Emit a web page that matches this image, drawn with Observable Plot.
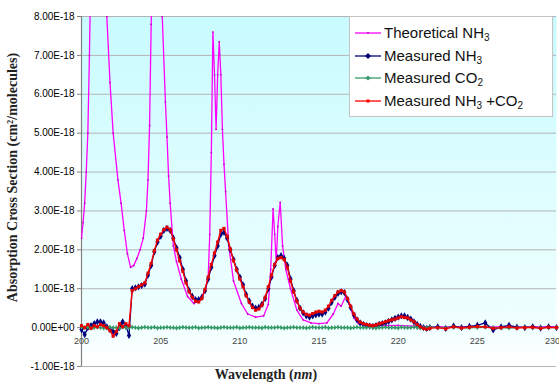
<!DOCTYPE html>
<html><head><meta charset="utf-8">
<script src="https://cdn.jsdelivr.net/npm/d3@7"></script>
<script src="https://cdn.jsdelivr.net/npm/@observablehq/plot@0.6"></script>
<style>
body{margin:0;background:#fff;}
#wrap{position:relative;width:559px;height:385px;overflow:hidden;}
#legend{position:absolute;left:349px;top:16px;width:204px;height:101px;background:#fff;border:1px solid #c4c4c4;box-sizing:border-box;font-family:Arial,"Liberation Sans",sans-serif;font-size:15px;color:#111;}
.row{position:absolute;left:0;height:20px;line-height:20px;white-space:nowrap;}
.row svg{position:absolute;left:3px;top:4px;}
.row span{position:absolute;left:34px;top:0;}
sub{font-size:10px;vertical-align:-3px;line-height:0;}
</style>
</head><body>
<div id="wrap"><div id="chart"></div>
<div id="legend">
 <div class="row" style="top:6px"><svg width="30" height="12"><line x1="2" x2="28" y1="6" y2="6" stroke="#ff00ff" stroke-width="1.3"/><circle cx="15" cy="6" r="1" fill="#cc00cc"/></svg><span>Theoretical NH<sub>3</sub></span></div>
 <div class="row" style="top:29px"><svg width="30" height="12"><line x1="2" x2="28" y1="6" y2="6" stroke="#000080" stroke-width="1.3"/><path d="M15,3L18,6L15,9L12,6Z" fill="#000080"/></svg><span>Measured NH<sub>3</sub></span></div>
 <div class="row" style="top:51px"><svg width="30" height="12"><line x1="2" x2="28" y1="6" y2="6" stroke="#339966" stroke-width="1.3"/><path d="M15,3.5L17.5,6L15,8.5L12.5,6Z" fill="#339966"/></svg><span>Measured CO<sub>2</sub></span></div>
 <div class="row" style="top:74px"><svg width="30" height="12"><line x1="2" x2="28" y1="6" y2="6" stroke="#ff0000" stroke-width="1.3"/><rect x="13.5" y="4.5" width="3" height="3" fill="#ff0000"/></svg><span>Measured NH<sub>3</sub> +CO<sub>2</sub></span></div>
</div>
</div>
<script>
// values in units of 1E-18 cm^2/molecule
const yTicks = [-1, 0, 1, 2, 3, 4, 5, 6, 7, 8];
const xTicks = [200, 205, 210, 215, 220, 225];
const xTickLast = [230];

// Theoretical NH3
const theoWl = [200.0,200.1,200.2,200.3,200.4,200.5,200.6,201.0,201.4,201.6,201.8,202.0,202.3,202.5,202.7,202.9,203.1,203.3,203.5,203.7,203.9,204.1,204.2,204.3,204.4,204.6,204.8,205.0,205.1,205.3,205.4,205.5,205.6,205.8,206.0,206.3,206.7,207.1,207.5,207.8,208.0,208.1,208.2,208.3,208.4,208.5,208.6,208.7,208.8,208.9,209.0,209.1,209.3,209.6,210.1,210.5,211.0,211.5,211.8,211.95,212.1,212.2,212.3,212.4,212.55,212.7,212.9,213.2,213.6,214.0,214.5,215.0,215.5,215.9,216.2,216.4,216.7,216.9,217.2,217.5,218.0,219.0,220.0,221.0,222.0,224.0,226.0,228.0,230.0];
const theoVal = [2.3,2.7,3.2,4.0,5.0,7.0,9.5,14,10,8.0,6.3,5.0,3.8,3.2,2.5,1.9,1.55,1.6,1.78,2.0,2.3,3.0,3.8,5.2,7.8,11,13,10,8.0,5.8,4.9,3.9,3.2,2.1,1.7,1.25,0.8,0.62,0.72,0.95,1.3,2.4,4.5,7.6,6.5,5.1,6.5,7.35,6.5,5.1,4.2,3.5,2.1,1.2,0.62,0.35,0.27,0.3,0.6,1.5,3.05,2.4,1.7,2.6,3.22,2.1,1.5,1.0,0.45,0.2,0.12,0.1,0.12,0.35,0.62,0.55,0.82,0.6,0.25,0.1,0.05,0.05,0.06,0.04,0.02,0.02,0.02,0.02,0.02];

// Measured series share one wavelength grid
const measWl = [200.0,200.2,200.4,200.6,200.8,201.0,201.2,201.4,201.6,201.8,202.0,202.2,202.4,202.6,202.8,203.0,203.2,203.4,203.6,203.8,204.0,204.2,204.4,204.6,204.8,205.0,205.2,205.4,205.6,205.8,206.0,206.2,206.4,206.6,206.8,207.0,207.2,207.4,207.6,207.8,208.0,208.2,208.4,208.6,208.8,209.0,209.2,209.4,209.6,209.8,210.0,210.2,210.4,210.6,210.8,211.0,211.2,211.4,211.6,211.8,212.0,212.2,212.4,212.6,212.8,213.0,213.2,213.4,213.6,213.8,214.0,214.2,214.4,214.6,214.8,215.0,215.2,215.4,215.6,215.8,216.0,216.2,216.4,216.6,216.8,217.0,217.2,217.4,217.6,217.8,218.0,218.2,218.4,218.6,218.8,219.0,219.2,219.4,219.6,219.8,220.0,220.2,220.4,220.6,220.8,221.0,221.2,221.4,221.6,221.8,222.0,222.5,223.0,223.5,224.0,224.5,225.0,225.5,226.0,226.5,227.0,227.5,228.0,228.5,229.0,229.5,230.0];
const nh3Val = [-0.05,-0.18,0.00,0.05,0.10,0.15,0.15,0.12,0.02,-0.05,-0.10,-0.15,0.00,0.15,0.05,-0.20,1.00,1.02,1.05,1.08,1.12,1.35,1.60,1.95,2.20,2.35,2.50,2.55,2.50,2.30,2.05,1.80,1.50,1.20,0.95,0.80,0.72,0.72,0.78,0.95,1.25,1.55,1.85,2.10,2.40,2.45,2.30,2.00,1.75,1.50,1.30,1.10,0.85,0.68,0.55,0.50,0.52,0.60,0.75,1.00,1.30,1.60,1.80,1.85,1.78,1.60,1.25,0.95,0.70,0.50,0.38,0.30,0.27,0.30,0.33,0.35,0.35,0.40,0.50,0.65,0.78,0.88,0.92,0.90,0.72,0.52,0.33,0.20,0.12,0.08,0.05,0.04,0.03,0.05,0.08,0.10,0.12,0.16,0.20,0.24,0.27,0.30,0.30,0.26,0.22,0.15,0.08,0.03,0.00,-0.02,0.00,0.02,-0.02,0.04,0.00,0.03,0.06,0.12,-0.06,0.02,0.06,0.01,0.00,0.02,-0.01,0.02,0.00];
const co2Val = [0.01,0.00,0.01,-0.01,0.00,0.01,0.00,-0.01,0.00,0.01,0.00,0.00,-0.01,0.01,0.00,0.00,0.01,0.00,-0.01,0.00,0.01,0.00,0.00,0.01,-0.01,0.00,0.00,0.01,0.00,0.00,-0.01,0.00,0.01,0.00,0.00,0.00,0.01,-0.01,0.00,0.00,0.01,0.00,0.00,-0.01,0.00,0.01,0.00,0.00,0.00,0.01,-0.01,0.00,0.00,0.01,0.00,0.00,0.00,-0.01,0.01,0.00,0.00,0.00,0.01,0.00,-0.01,0.00,0.00,0.01,0.00,0.00,0.00,-0.01,0.00,0.01,0.00,0.00,0.00,0.01,-0.01,0.00,0.00,0.01,0.00,0.00,0.00,-0.01,0.00,0.01,0.00,0.00,0.00,0.01,0.00,-0.01,0.00,0.00,0.01,0.00,0.00,0.00,-0.01,0.01,0.00,0.00,0.00,0.01,0.00,-0.01,0.00,0.00,0.01,0.00,0.00,0.01,-0.01,0.00,0.00,0.01,0.00,0.00,-0.01,0.00,0.01,0.00,0.00,0.00,0.00];
const mixVal = [0.05,0.00,0.08,-0.02,0.05,0.02,0.08,0.05,0.00,-0.08,-0.22,-0.10,0.10,0.02,0.10,0.05,0.95,1.00,1.05,1.10,1.15,1.40,1.65,1.98,2.25,2.40,2.52,2.58,2.52,2.28,2.00,1.72,1.45,1.15,0.92,0.78,0.68,0.66,0.75,0.98,1.30,1.62,1.92,2.20,2.50,2.55,2.35,2.02,1.72,1.48,1.25,1.05,0.82,0.65,0.52,0.45,0.48,0.58,0.78,1.05,1.35,1.62,1.78,1.80,1.75,1.55,1.20,0.92,0.68,0.50,0.40,0.34,0.32,0.36,0.40,0.42,0.40,0.45,0.55,0.70,0.82,0.92,0.95,0.92,0.75,0.55,0.35,0.22,0.14,0.10,0.08,0.06,0.05,0.07,0.10,0.12,0.15,0.18,0.20,0.22,0.25,0.28,0.26,0.25,0.20,0.15,0.08,0.02,-0.02,-0.04,-0.02,0.00,-0.03,0.02,-0.01,0.01,0.03,0.02,-0.02,0.00,0.02,-0.01,0.00,0.01,-0.02,0.01,0.00];

const theo = theoWl.map((w, i) => ({w, v: theoVal[i]}));
const meas = measWl.map((w, i) => ({w, nh3: nh3Val[i], co2: co2Val[i], mix: mixVal[i]}));

const fmt = v => v === 0 ? "0.00E+00" : v.toFixed(2) + "E-18";

const plot = Plot.plot({
  width: 559, height: 385,
  marginLeft: 81, marginRight: 3, marginTop: 16, marginBottom: 19,
  style: {fontFamily: "Arial, 'Liberation Sans', sans-serif", background: "white"},
  x: {domain: [200, 230], axis: null},
  y: {domain: [-1, 8], ticks: yTicks, tickFormat: fmt, tickSize: 4, tickPadding: 3, label: null, fontSize: 9},
  marks: [
    Plot.frame({fill: "url(#bgGrad)", stroke: null}),
    Plot.ruleY(yTicks, {stroke: "#b4b4b4", strokeWidth: 1}),
    Plot.ruleX([200], {stroke: "#808080", strokeWidth: 1.2}),
    Plot.text(xTicks, {x: d => d, y: () => 0, dy: 13, text: d => String(d), fontSize: 9, fill: "#444"}),
    Plot.text(xTickLast, {x: d => d, y: () => 0, dy: 13, dx: -4, text: d => String(d), fontSize: 9, fill: "#444"}),
    Plot.line(theo, {x: "w", y: "v", stroke: "#ff00ff", strokeWidth: 1.3, clip: true}),
    Plot.dot(theo, {x: "w", y: "v", r: 0.9, fill: "#c000c0", clip: true}),
    Plot.line(meas, {x: "w", y: "nh3", stroke: "#000080", strokeWidth: 1.3}),
    Plot.dot(meas, {x: "w", y: "nh3", r: 2.2, symbol: "diamond", fill: "#000080"}),
    Plot.line(meas, {x: "w", y: "co2", stroke: "#339966", strokeWidth: 1.3}),
    Plot.dot(meas, {x: "w", y: "co2", r: 1.6, symbol: "diamond", fill: "#339966"}),
    Plot.line(meas, {x: "w", y: "mix", stroke: "#ff0000", strokeWidth: 1.4}),
    Plot.dot(meas, {x: "w", y: "mix", r: 1.8, symbol: "square", fill: "#e00000"}),
    Plot.text(["Absorption Cross Section (cm²/molecules)"], {frameAnchor: "left", textAnchor: "middle", rotate: -90, dx: -69, dy: -14, fontSize: 14, fontWeight: "bold", fontFamily: "'Liberation Serif', 'Times New Roman', serif", fill: "#222"}),
    Plot.text(["Wavelength (nm)"], {frameAnchor: "bottom", dx: -53, dy: 12, fontSize: 14, fontWeight: "bold", fontFamily: "'Liberation Serif', 'Times New Roman', serif", fill: "#222", className: "xtitle"})
  ]
});

const svg = d3.select(plot);
const defs = svg.insert("defs", ":first-child");
const g = defs.append("linearGradient").attr("id", "bgGrad").attr("x1", 0).attr("y1", 0).attr("x2", 0).attr("y2", 1);
g.append("stop").attr("offset", "0%").attr("stop-color", "#c8fbff");
g.append("stop").attr("offset", "88%").attr("stop-color", "#f0ffff");
g.append("stop").attr("offset", "100%").attr("stop-color", "#ffffff");
svg.selectAll(".xtitle text").each(function() {
  const t = d3.select(this);
  t.text(null);
  t.append("tspan").text("Wavelength (");
  t.append("tspan").attr("font-style", "italic").text("nm");
  t.append("tspan").text(")");
});
svg.selectAll("[aria-label='y-axis tick'] path, [aria-label='y-axis tick'] line").attr("stroke", "#808080");
document.getElementById("chart").appendChild(plot);
</script>
</body></html>
